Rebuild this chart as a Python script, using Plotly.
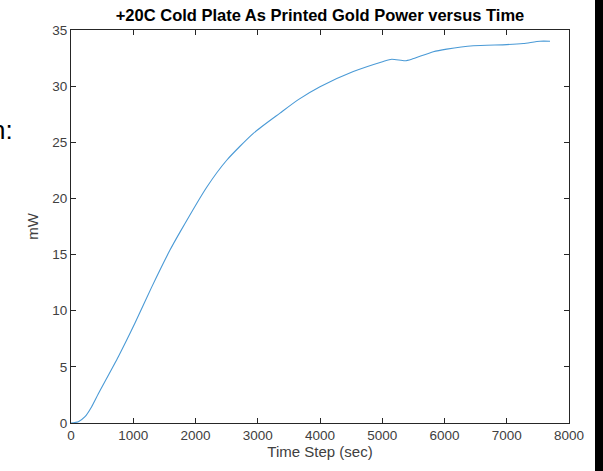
import plotly.graph_objects as go

time_s = [0, 118, 225, 332, 439, 760, 1028, 1296, 1590, 1751, 2180, 2501, 2929, 3357, 3652,
          4000, 4535, 5017, 5152, 5365, 5473, 5820, 6035, 6463, 6999, 7266, 7534, 7695]
power_mw = [0.0, 0.12, 0.56, 1.45, 2.6, 5.9, 8.9, 12.1, 15.4, 17.0, 21.0, 23.4, 25.8, 27.6, 28.8,
            29.95, 31.3, 32.2, 32.4, 32.26, 32.4, 33.07, 33.3, 33.6, 33.7, 33.8, 34.0, 34.0]
x_ticks = [0, 1000, 2000, 3000, 4000, 5000, 6000, 7000, 8000]
y_ticks = [0, 5, 10, 15, 20, 25, 30, 35]

FONT = "Arial, Liberation Sans, sans-serif"
L, T, PW, PH = 71, 30, 498, 393

fig = go.Figure()
fig.add_trace(go.Scatter(x=time_s, y=power_mw, mode="lines",
                         line=dict(color="#4a9ad6", width=1.1, shape="spline", smoothing=0.6),
                         showlegend=False, hoverinfo="skip"))

axis_common = dict(showgrid=False, zeroline=False, showline=True, linecolor="#262626",
                   linewidth=1, mirror="ticks", ticks="inside", ticklen=5, tickcolor="#262626",
                   tickfont=dict(family=FONT, size=13.5, color="#404040"))

fig.update_layout(
    width=603, height=471,
    margin=dict(l=L, r=603 - L - PW, t=T, b=471 - T - PH),
    paper_bgcolor="white", plot_bgcolor="white",
    title=dict(text="<b>+20C Cold Plate As Printed Gold Power versus Time</b>",
               x=320 / 603, xanchor="center", y=1 - 15 / 471, yanchor="middle",
               font=dict(family=FONT, size=16.5, color="black")),
    xaxis=dict(range=[0, 8000], tickvals=x_ticks, ticktext=[str(v) for v in x_ticks],
               title=dict(text="Time Step (sec)", standoff=4,
                          font=dict(family=FONT, size=15, color="#404040")),
               **axis_common),
    yaxis=dict(range=[0, 35], tickvals=y_ticks, ticktext=[str(v) for v in y_ticks],
               title=dict(text="mW", standoff=10,
                          font=dict(family=FONT, size=15, color="#404040")),
               **axis_common),
)

fig.add_annotation(text="n:", xref="paper", yref="paper", x=(15 - L) / PW, y=(T + PH - 130) / PH,
                   xanchor="right", yanchor="middle", showarrow=False,
                   font=dict(family=FONT, size=26, color="black"))

post = (
    "document.body.style.margin='0';document.body.style.overflow='hidden';"
    "var d=document.createElement('div');"
    "d.style.cssText='position:fixed;left:595px;top:0;width:8px;height:471px;background:#000;z-index:10;';"
    "document.body.appendChild(d);"
)
fig.write_html("out.html", config={"displayModeBar": False}, post_script=post)
